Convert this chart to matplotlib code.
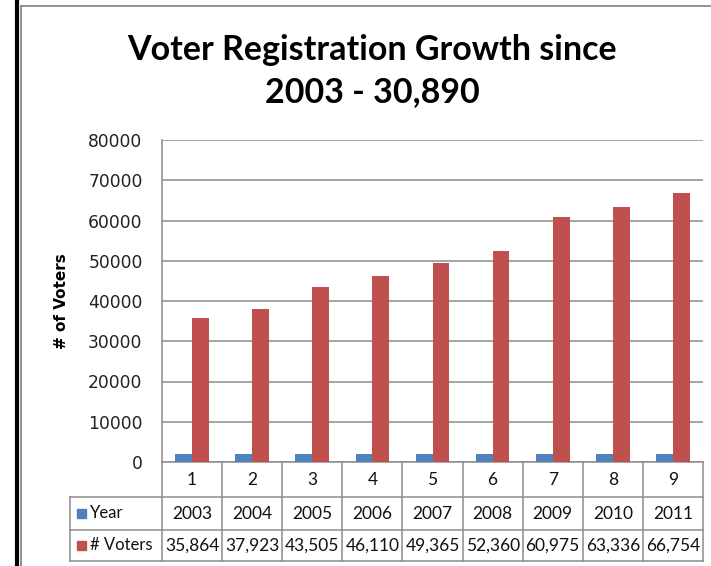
import matplotlib
matplotlib.use("Agg")
import matplotlib.pyplot as plt
from matplotlib.transforms import blended_transform_factory
from matplotlib.patches import Rectangle
from matplotlib.lines import Line2D

categories = [1, 2, 3, 4, 5, 6, 7, 8, 9]
years = [2003, 2004, 2005, 2006, 2007, 2008, 2009, 2010, 2011]
voters = [35864, 37923, 43505, 46110, 49365, 52360, 60975, 63336, 66754]
series_names = ["Year", "# Voters"]
colors = ["#4F81BD", "#C0504D"]
title = "Voter Registration Growth since\n2003 - 30,890"
ylabel = "# of Voters"
yticks = [0, 10000, 20000, 30000, 40000, 50000, 60000, 70000, 80000]

W, H = 711, 566
fig = plt.figure(figsize=(W / 100, H / 100), dpi=100)
fig.patch.set_facecolor("white")

# outer frame lines (black left edge + grey chart border)
fig.add_artist(Line2D([16.5 / W, 16.5 / W], [0, 1], color="black", lw=3.0))
fig.add_artist(Line2D([20.5 / W, 20.5 / W], [0, 1 - 6 / H], color="#888888", lw=1.3))
fig.add_artist(Line2D([20.5 / W, 1], [1 - 6 / H, 1 - 6 / H], color="#888888", lw=1.3))

L, R, T, B = 162, 703, 140, 462
ax = fig.add_axes([L / W, 1 - B / H, (R - L) / W, (B - T) / H])

bw = 0.28
x = list(range(1, len(categories) + 1))
ax.bar([v - bw / 2 for v in x], years, width=bw, color=colors[0], zorder=3)
ax.bar([v + bw / 2 for v in x], voters, width=bw, color=colors[1], zorder=3)

ax.set_xlim(0.5, len(categories) + 0.5)
ax.set_ylim(0, 80000)
ax.set_yticks(yticks)
ax.set_yticklabels([str(t) for t in yticks], fontsize=12.3, color="#222222",
                   family="DejaVu Sans")
ax.tick_params(axis="y", length=0, pad=14)
ax.set_xticks([])
ax.grid(axis="y", color="#8c8c8c", lw=1.1, zorder=0)
for s in ["top", "right"]:
    ax.spines[s].set_visible(False)
for s in ["left", "bottom"]:
    ax.spines[s].set_color("#8c8c8c")
    ax.spines[s].set_linewidth(1.1)

ax.set_ylabel(ylabel, fontsize=11, fontweight="bold", family="DejaVu Sans")
ax.yaxis.set_label_coords((69 - L) / (R - L), 0.5)

fig.text(372 / W, 1 - 71 / H, title, ha="center", va="center",
         fontsize=24.5, fontweight="bold", family="Lato", linespacing=1.42)

# data table
ph = B - T
def fy(py):
    return (B - py) / ph

tr = blended_transform_factory(ax.transData, ax.transAxes)
row_lines = [497, 530, 561]
grid_kw = dict(color="#8c8c8c", lw=1.1, clip_on=False)
hx0 = (70 - L) / (R - L)
for py in row_lines:
    ax.plot([hx0, 1], [fy(py), fy(py)], transform=ax.transAxes, **grid_kw)
ax.plot([hx0, hx0], [fy(row_lines[0]), fy(row_lines[-1])], transform=ax.transAxes, **grid_kw)
for v in x + [x[-1] + 1]:
    ax.plot([v - 0.5, v - 0.5], [0, fy(row_lines[-1])], transform=tr, **grid_kw)

tfont = dict(family="Lato", fontsize=12.5, color="#111111", ha="center", va="center")
for v, c in zip(x, categories):
    ax.text(v, fy(480), str(c), transform=tr, **tfont)
for v, yv in zip(x, years):
    ax.text(v, fy(514), str(yv), transform=tr, **tfont)
for v, vv in zip(x, voters):
    ax.text(v, fy(546), f"{vv:,}", transform=tr, **tfont)

for name, col, py in zip(series_names, colors, [514, 546]):
    ax.add_patch(Rectangle(((77 - L) / (R - L), fy(py + 4)), 9 / (R - L), 9 / ph,
                           transform=ax.transAxes, color=col, clip_on=False))
    ax.text((90 - L) / (R - L), fy(py - 1), name, transform=ax.transAxes,
            family="Lato", fontsize=12, color="#111111", ha="left", va="center")

fig.savefig("out.png", dpi=100, facecolor="white")
